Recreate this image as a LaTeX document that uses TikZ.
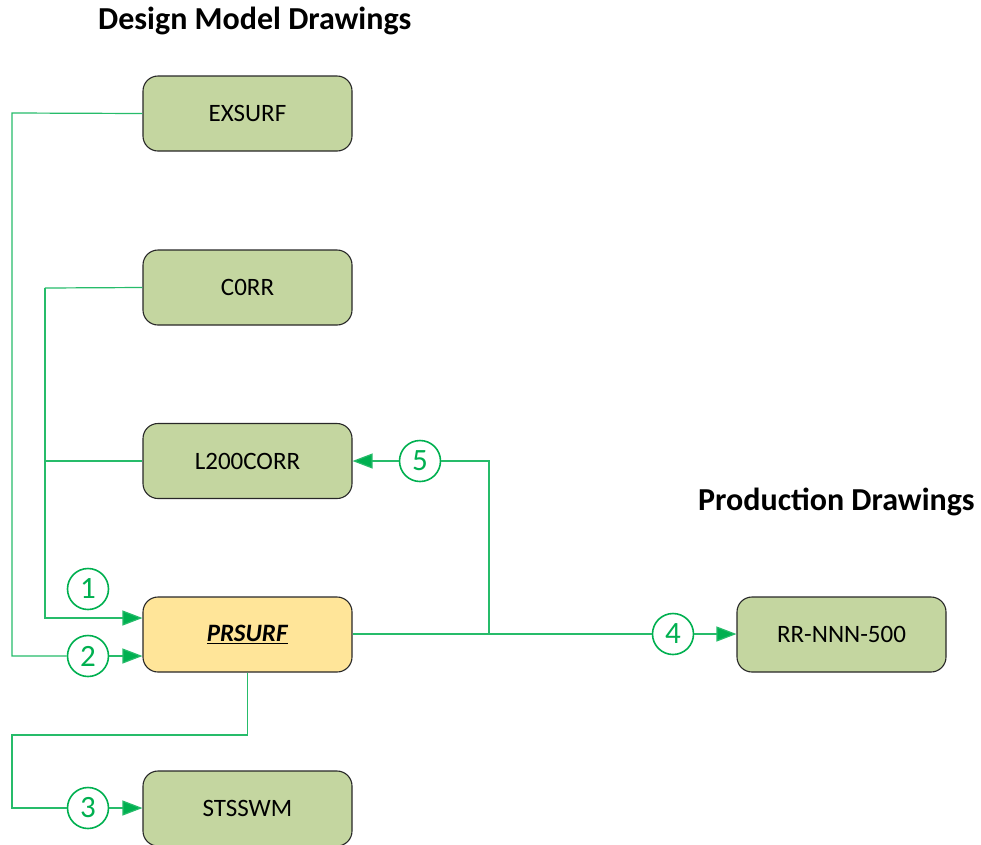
\documentclass[tikz,border=0pt]{standalone}
\usepackage{fontspec}
\setmainfont{Carlito}
\usetikzlibrary{arrows.meta,calc}
\definecolor{boxgreen}{RGB}{196,214,160}
\definecolor{boxyellow}{RGB}{255,229,153}
\definecolor{lgreen}{RGB}{0,176,80}
\definecolor{bord}{RGB}{40,40,40}
\tikzset{
  box/.style={draw=bord, line width=1.1pt, fill=boxgreen, rounded corners=15pt,
    minimum width=209pt, minimum height=75pt, inner sep=0pt,
    font=\fontsize{25}{30}\selectfont},
  num/.style={circle, draw=lgreen, line width=1.6pt, fill=white, minimum size=41pt,
    inner sep=0pt, text=lgreen, font=\fontsize{31}{34}\selectfont},
  conn/.style={draw=lgreen!85, line width=1.2pt},
  arr/.style={conn, -{Triangle[length=20pt,width=15pt,fill=lgreen]}},
  title/.style={font=\bfseries\fontsize{32}{36}\selectfont, anchor=west, inner sep=0pt}
}
\begin{document}
\begin{tikzpicture}[x=1pt,y=-1pt]
\useasboundingbox (0,0) rectangle (981,844);
\fill[white] (0,0) rectangle (981,844);
\node[title] (t1) at (98,21) {Design Model Drawings};
\node[title] (t2) at (698,502) {Production Drawings};

\node[box] (exsurf) at (247.5,113.5) {EXSURF};
\node[box] (corr) at (247.5,287.5) {C0RR};
\node[box] (l200) at (247.5,461) {L200CORR};
\node[box, fill=boxyellow] (prsurf) at (247.5,634.5) {\underline{\textbf{\textit{PRSURF}}}};
\node[box] (stsswm) at (247.5,808.5) {STSSWM};
\node[box] (rr) at (841.5,634.5) {RR-NNN-500};

\node[num] (c1) at (88,589) {1};
\node[num] (c2) at (88,656) {2};
\node[num] (c3) at (88,808) {3};
\node[num] (c4) at (673,634) {4};
\node[num] (c5) at (420,461) {5};

\coordinate (v1) at (12,113);
\coordinate (v2) at (45,288);
\coordinate (j5) at (489,634);
\coordinate (b3) at (247.5,735);

% EXSURF -> circle 2 -> PRSURF
\draw[conn] (exsurf.west) -- (v1) |- (c2);
\draw[arr] (c2) -- (prsurf.west |- c2);
% C0RR / L200CORR -> PRSURF (1)
\draw[conn] (corr.west) -- (v2);
\draw[conn] (l200.west) -- (v2 |- l200.west);
\draw[arr] (v2) |- (prsurf.west |- 0,618);
% PRSURF -> STSSWM (3)
\draw[conn] (prsurf.south) -- (b3) -| (v1 |- b3) |- (c3);
\draw[arr] (c3) -- (stsswm.west |- c3);
% PRSURF -> RR (4)
\draw[conn] (prsurf.east |- j5) -- (c4);
\draw[arr] (c4) -- (rr.west |- c4);
% PRSURF -> L200CORR (5)
\draw[conn] (j5) |- (c5);
\draw[arr] (c5) -- (l200.east |- c5);
\end{tikzpicture}
\end{document}
